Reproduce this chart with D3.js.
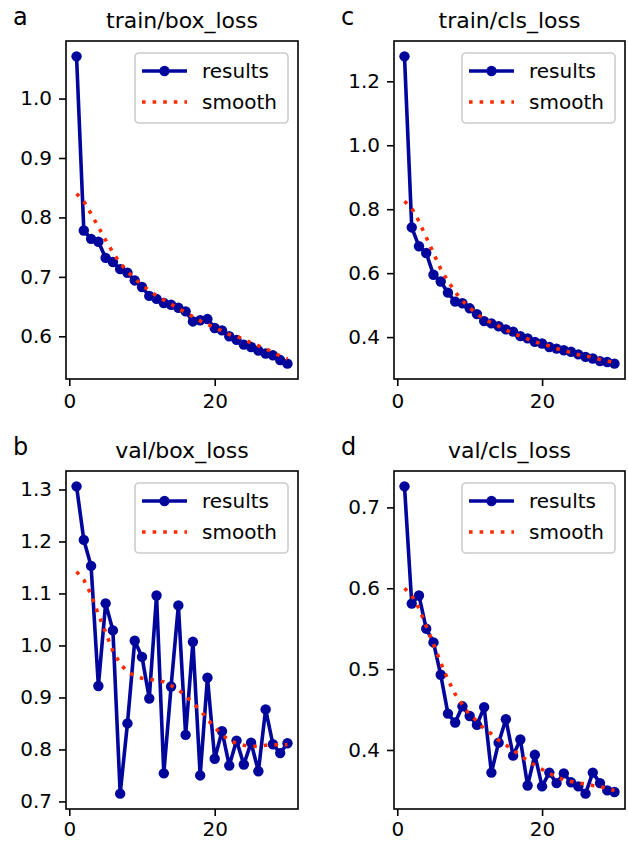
<!DOCTYPE html>
<html>
<head>
<meta charset="utf-8">
<script src="https://cdn.jsdelivr.net/npm/d3@7"></script>
<style>
  html, body { margin: 0; padding: 0; background: #ffffff; }
  svg { display: block; }
  text { font-family: "DejaVu Sans", sans-serif; fill: #000; }
</style>
</head>
<body>
<svg id="chart" width="628" height="844"></svg>
<script>
// ---------------- data ----------------
const epochs = [1,2,3,4,5,6,7,8,9,10,11,12,13,14,15,16,17,18,19,20,21,22,23,24,25,26,27,28,29,30];
const xTickValues = [0, 20];

const trainBoxResults = [1.071,0.778,0.764,0.759,0.732,0.725,0.713,0.707,0.694,0.683,0.668,0.663,0.656,0.653,0.648,0.642,0.625,0.627,0.629,0.614,0.610,0.600,0.594,0.586,0.582,0.576,0.571,0.568,0.560,0.554];
const trainBoxSmooth  = [0.840,0.827,0.806,0.784,0.762,0.741,0.723,0.709,0.697,0.686,0.677,0.668,0.661,0.654,0.647,0.640,0.633,0.626,0.620,0.615,0.609,0.603,0.600,0.595,0.589,0.584,0.579,0.573,0.567,0.562];
const trainBoxTicks   = [0.6,0.7,0.8,0.9,1.0];

const trainClsResults = [1.278,0.743,0.684,0.663,0.595,0.574,0.539,0.511,0.506,0.490,0.472,0.450,0.443,0.434,0.424,0.417,0.403,0.396,0.385,0.380,0.369,0.364,0.359,0.354,0.346,0.338,0.333,0.325,0.322,0.317];
const trainClsSmooth  = [0.825,0.803,0.762,0.712,0.663,0.613,0.575,0.541,0.513,0.492,0.472,0.456,0.445,0.434,0.422,0.411,0.403,0.394,0.385,0.379,0.372,0.364,0.358,0.352,0.345,0.341,0.336,0.330,0.325,0.321];
const trainClsTicks   = [0.4,0.6,0.8,1.0,1.2];

const valBoxResults = [1.306,1.203,1.153,0.922,1.081,1.029,0.715,0.850,1.009,0.978,0.898,1.096,0.754,0.921,1.077,0.828,1.007,0.750,0.938,0.782,0.835,0.769,0.817,0.771,0.813,0.758,0.877,0.810,0.793,0.812];
const valBoxSmooth  = [1.142,1.126,1.098,1.060,1.025,0.989,0.965,0.949,0.942,0.937,0.935,0.933,0.930,0.923,0.915,0.903,0.889,0.876,0.858,0.842,0.829,0.817,0.812,0.808,0.806,0.806,0.808,0.809,0.809,0.809];
const valBoxTicks   = [0.7,0.8,0.9,1.0,1.1,1.2,1.3];

const valClsResults = [0.726,0.581,0.591,0.550,0.533,0.493,0.445,0.434,0.454,0.442,0.431,0.453,0.372,0.409,0.438,0.393,0.413,0.356,0.394,0.355,0.372,0.359,0.371,0.360,0.355,0.346,0.372,0.359,0.350,0.348];
const valClsSmooth  = [0.600,0.591,0.575,0.553,0.531,0.508,0.487,0.469,0.456,0.443,0.436,0.426,0.420,0.412,0.406,0.400,0.393,0.387,0.381,0.376,0.371,0.367,0.363,0.361,0.359,0.358,0.356,0.355,0.352,0.350];
const valClsTicks   = [0.4,0.5,0.6,0.7];

const seriesNames = ["results", "smooth"];

// ---------------- layout ----------------
const panels = [
  {letter: "a", title: "train/box_loss", results: trainBoxResults, smooth: trainBoxSmooth, ticks: trainBoxTicks, x0: 66,  x1: 298, y0: 41,  y1: 379, xPad: 8},
  {letter: "c", title: "train/cls_loss", results: trainClsResults, smooth: trainClsSmooth, ticks: trainClsTicks, x0: 394, x1: 625, y0: 41,  y1: 379, xPad: 8},
  {letter: "b", title: "val/box_loss",   results: valBoxResults,   smooth: valBoxSmooth,   ticks: valBoxTicks,   x0: 66,  x1: 298, y0: 471, y1: 809, xPad: 6},
  {letter: "d", title: "val/cls_loss",   results: valClsResults,   smooth: valClsSmooth,   ticks: valClsTicks,   x0: 394, x1: 625, y0: 471, y1: 809, xPad: 6}
];

const BLUE = "#00069c";
const RED = "#ff2a00";
const FS = 20;

const svg = d3.select("#chart");

function padded(lo, hi) {
  const m = (hi - lo) * 0.05;
  return [lo - m, hi + m];
}

panels.forEach(p => {
  const xExt = d3.extent(epochs);
  const x = d3.scaleLinear().domain(padded(xExt[0], xExt[1])).range([p.x0, p.x1]);
  const all = p.results.concat(p.smooth);
  const yExt = d3.extent(all);
  const y = d3.scaleLinear().domain(padded(yExt[0], yExt[1])).range([p.y1, p.y0]);

  const g = svg.append("g");

  // axes
  const xAxis = d3.axisBottom(x).tickValues(xTickValues).tickFormat(d3.format("d")).tickSize(7).tickPadding(p.xPad);
  const yAxis = d3.axisLeft(y).tickValues(p.ticks).tickFormat(d3.format(".1f")).tickSize(7).tickPadding(7);

  const gx = g.append("g").attr("transform", `translate(0,${p.y1})`).call(xAxis);
  const gy = g.append("g").attr("transform", `translate(${p.x0},0)`).call(yAxis);
  [gx, gy].forEach(a => {
    a.select(".domain").remove();
    a.selectAll("line").attr("stroke", "#000").attr("stroke-width", 1.6);
    a.selectAll("text").attr("font-size", FS).attr("font-family", "DejaVu Sans, sans-serif").attr("fill", "#000");
  });

  // clip
  const clipId = "clip-" + p.letter;
  svg.append("clipPath").attr("id", clipId).append("rect")
    .attr("x", p.x0).attr("y", p.y0).attr("width", p.x1 - p.x0).attr("height", p.y1 - p.y0);

  const plot = g.append("g").attr("clip-path", `url(#${clipId})`);

  const line = d3.line().x((d, i) => x(epochs[i])).y(d => y(d));

  plot.append("path").datum(p.results)
    .attr("d", line).attr("fill", "none")
    .attr("stroke", BLUE).attr("stroke-width", 3.6).attr("stroke-linejoin", "round");

  plot.selectAll("circle.m").data(p.results).enter().append("circle")
    .attr("class", "m")
    .attr("cx", (d, i) => x(epochs[i])).attr("cy", d => y(d))
    .attr("r", 5.2).attr("fill", BLUE);

  plot.append("path").datum(p.smooth)
    .attr("d", line).attr("fill", "none")
    .attr("stroke", RED).attr("stroke-width", 3.6).attr("stroke-dasharray", "3.6,7");

  // frame
  g.append("rect").attr("x", p.x0).attr("y", p.y0)
    .attr("width", p.x1 - p.x0).attr("height", p.y1 - p.y0)
    .attr("fill", "none").attr("stroke", "#000").attr("stroke-width", 1.6);

  // title and panel letter
  g.append("text").attr("x", (p.x0 + p.x1) / 2).attr("y", p.y0 - 13)
    .attr("text-anchor", "middle").attr("font-size", 22).text(p.title);
  g.append("text").attr("x", p.x0 - 53).attr("y", p.y0 - 16)
    .attr("font-size", 24).text(p.letter);

  // legend
  const lw = 153, lh = 70;
  const lx = p.x1 - 10 - lw, ly = p.y0 + 12;
  const lg = g.append("g");
  lg.append("rect").attr("x", lx).attr("y", ly).attr("width", lw).attr("height", lh)
    .attr("rx", 4).attr("fill", "#fff").attr("fill-opacity", 0.8)
    .attr("stroke", "#cccccc").attr("stroke-width", 1.6);
  const rowY = [ly + 18, ly + 49];
  lg.append("line").attr("x1", lx + 7).attr("x2", lx + 52).attr("y1", rowY[0]).attr("y2", rowY[0])
    .attr("stroke", BLUE).attr("stroke-width", 3.6);
  lg.append("circle").attr("cx", lx + 29.5).attr("cy", rowY[0]).attr("r", 5.2).attr("fill", BLUE);
  lg.append("line").attr("x1", lx + 7).attr("x2", lx + 52).attr("y1", rowY[1]).attr("y2", rowY[1])
    .attr("stroke", RED).attr("stroke-width", 3.6).attr("stroke-dasharray", "3.6,7");
  seriesNames.forEach((n, i) => {
    lg.append("text").attr("x", lx + 67).attr("y", rowY[i]).attr("dy", "0.35em")
      .attr("font-size", FS).text(n);
  });
});
</script>
</body>
</html>
